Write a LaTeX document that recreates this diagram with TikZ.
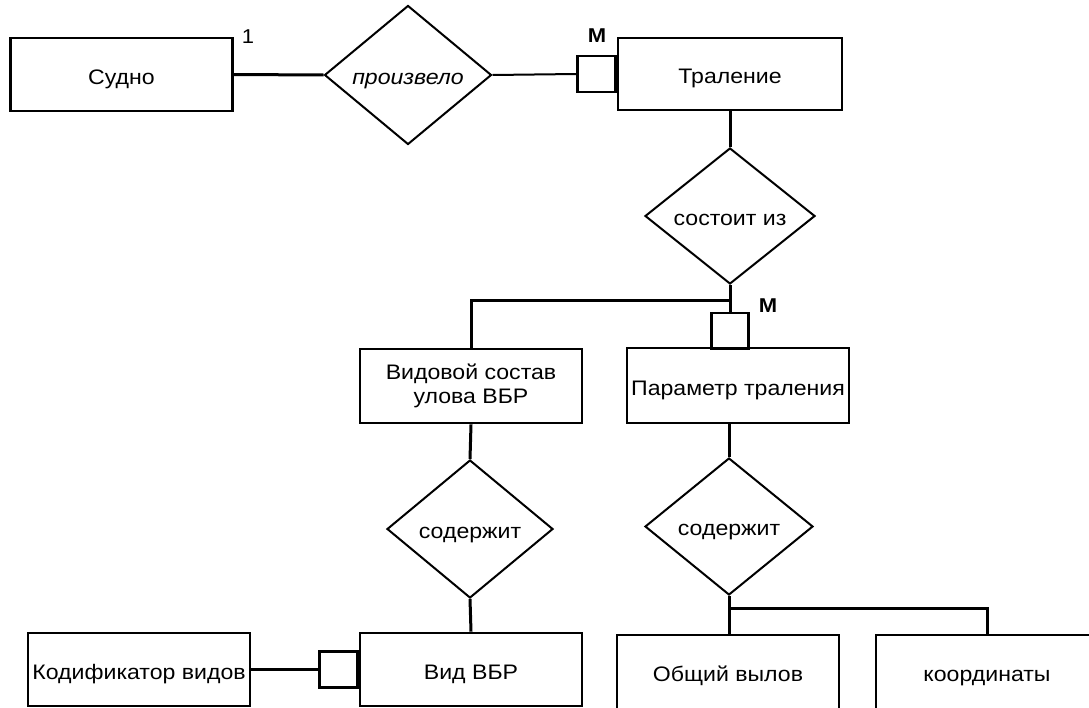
\documentclass[tikz,border=0pt]{standalone}
\usepackage{fontspec}
\setmainfont{Liberation Sans}
\newfontfamily\wide[FakeStretch=1.10]{Liberation Sans}
\usetikzlibrary{shapes.geometric,calc}
\begin{document}
\begin{tikzpicture}[x=1pt,y=-1pt,
  entity/.style={draw,line width=2.6pt,rectangle,inner sep=0pt,
    minimum width=222pt,minimum height=73pt,font=\wide\fontsize{21}{25}\selectfont,
    text height=19pt,text depth=0pt},
  twoline/.style={text height=,text depth=,align=center},
  relation/.style={draw,line width=2pt,diamond,inner sep=0pt,
    minimum width=168pt,minimum height=138pt,font=\wide\fontsize{21}{25}\selectfont,
    text height=20pt,text depth=2pt},
  many/.style={draw,line width=2.6pt,rectangle,inner sep=0pt,
    minimum width=37pt,minimum height=36pt},
  link/.style={line width=3pt},
  thinlink/.style={line width=2pt},
  card/.style={font=\wide\fontsize{20}{24}\selectfont}]
\useasboundingbox (0,0) rectangle (1089,707);
\begin{scope}
\clip (0,0) rectangle (1089,707);
% entities
\node[entity] (sudno) at (121.5,74.5) {Судно};
\node[entity,minimum width=224pt,minimum height=72pt] (tral) at (730,74) {Траление};
\node[entity,twoline,minimum height=74pt] (vidsost) at (471,386) {Видовой состав\\[-1pt]улова ВБР};
\node[entity,minimum height=75pt] (param) at (738,385.5) {Параметр траления};
\node[entity] (kodif) at (139,669.5) {Кодификатор видов};
\node[entity] (vid) at (471,669.5) {Вид ВБР};
\node[entity,minimum height=74pt] (obsh) at (728,672) {Общий вылов};
\node[entity,minimum height=74pt] (koord) at (987,672) {координаты};
% relationships
\node[relation,minimum width=167pt,minimum height=139pt] (proizv) at (408,75) {\itshape произвело};
\node[relation,minimum width=170pt,minimum height=136pt] (sostoit) at (730,216) {состоит из};
\node[relation,minimum width=166pt] (sod1) at (470,529) {содержит};
\node[relation,minimum height=137pt] (sod2) at (729,526.5) {содержит};
% "many" markers
\node[many,minimum width=38pt,anchor=east] (m1) at (tral.west) {};
\node[many] (m2) at (730,331) {};
\node[many,minimum width=38pt,anchor=east] (m3) at (vid.west) {};
% cardinality labels
\node[card] (c1) at (248,37) {1};
\node[card] (c2) at (597,36) {\bfseries M};
\node[card] (c3) at (768,306) {\bfseries M};
% connectors
\draw[link] (sudno.east) -- (proizv.west);
\draw[thinlink] (proizv.east) -- (m1.west);
\draw[link] (tral.south) -- (sostoit.north);
\coordinate (j1) at ($(sostoit.south)+(0,15)$);
\draw[link] (sostoit.south) -- (m2.north);
\draw[link] (j1) -| (vidsost.north);
\draw[link] (vidsost.south) -- (sod1.north);
\draw[link] (sod1.south) -- (vid.north);
\draw[link] (sod2.north |- param.south) -- (sod2.north);
\coordinate (j2) at ($(sod2.south)+(0,12)$);
\draw[link] (sod2.south) -- (sod2.south |- obsh.north);
\draw[link] (j2) -| (koord.north);
\draw[link] (kodif.east) -- (m3.west);
\end{scope}
\end{tikzpicture}
\end{document}
